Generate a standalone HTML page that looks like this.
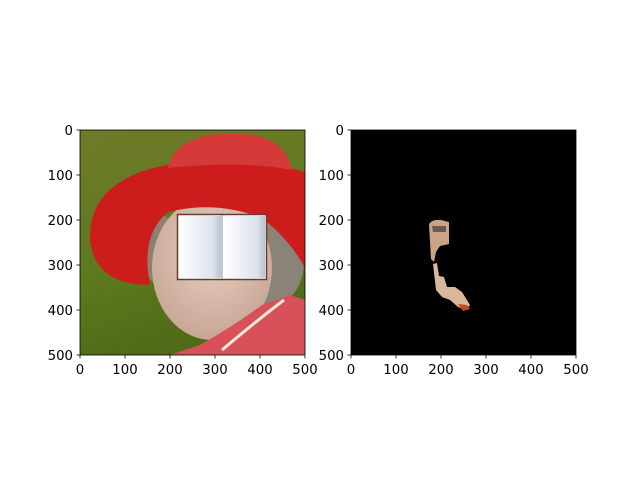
<!DOCTYPE html>
<html><head><meta charset="utf-8"><style>
body{margin:0;background:#fff}
svg{display:block;font-family:"DejaVu Sans","Liberation Sans",sans-serif;font-size:13.3px}
</style></head><body>
<svg width="640" height="480" viewBox="0 0 640 480">
<defs>
<linearGradient id="bg" x1="0" y1="0" x2="0.3" y2="1"><stop offset="0" stop-color="#6f7a2a"/><stop offset="0.6" stop-color="#5d7a1c"/><stop offset="1" stop-color="#4f6a18"/></linearGradient>
<radialGradient id="skin" cx="0.5" cy="0.4" r="0.6"><stop offset="0" stop-color="#e6cfc0"/><stop offset="1" stop-color="#c8a696"/></radialGradient>
<linearGradient id="page" x1="0" x2="1"><stop offset="0" stop-color="#fff"/><stop offset="0.8" stop-color="#dde3ec"/><stop offset="1" stop-color="#b8c2d0"/></linearGradient>
<clipPath id="c1"><rect x="80" y="130" width="225" height="225"/></clipPath>
</defs>
<g clip-path="url(#c1)">
<rect x="80" y="130" width="225" height="225" fill="url(#bg)"/>
<ellipse cx="268" cy="262" rx="36" ry="45" fill="#8a8478"/>
<ellipse cx="160" cy="250" rx="18" ry="35" fill="#8d8070"/>
<ellipse cx="212" cy="268" rx="60" ry="72" fill="url(#skin)"/>
<path d="M200 345 Q235 325 262 305 L290 295 L305 300 L305 355 L170 355 Z" fill="#d8505a"/>
<path d="M222 350 Q255 322 284 300" stroke="#eee8d8" stroke-width="3" fill="none"/>
<path d="M90 240 Q88 175 180 163 Q250 155 305 172 L305 268 Q290 240 262 218 Q215 200 168 212 Q140 235 150 285 Q95 285 90 240 Z" fill="#cc1c1c"/>
<path d="M168 168 Q175 135 230 133 Q285 133 292 170 Q240 160 168 168 Z" fill="#d63a38"/>
<rect x="177" y="214" width="90" height="66" fill="#fff"/>
<rect x="179" y="216" width="42" height="62" fill="url(#page)"/>
<rect x="223" y="216" width="42" height="62" fill="url(#page)"/>
<rect x="177.5" y="214.5" width="89" height="65" fill="none" stroke="#6a3a2a" stroke-width="1.5"/>
<line x1="222" y1="215" x2="222" y2="279" stroke="#8a96a8"/>
</g>
<rect x="80" y="130" width="225" height="225" fill="none" stroke="#000" stroke-width="0.8"/>
<g>
<rect x="351" y="130" width="225" height="225" fill="#000"/>
<path d="M429 224 Q432 219 441 220 L449 222 L449 244 L440 246 L436 252 L434 262 L431 259 Z" fill="#caa488"/>
<path d="M432 226 L446 226 L446 232 L433 232 Z" fill="#6a5a50"/>
<path d="M433 264 L437 263 L439 276 L444 277 L447 287 L455 287 L462 292 L470 305 L466 310 L458 307 L450 300 L442 297 L436 290 Z" fill="#d8b898"/>
<path d="M458 304 L467 305 L470 309 L463 311 Z" fill="#c04c30"/>
</g>
<rect x="351" y="130" width="225" height="225" fill="none" stroke="#000" stroke-width="0.8"/>
<g id="ticks" stroke="#000" stroke-width="0.8"></g>
<g id="labels" fill="#000"></g>
</svg>
<script>
const tickValues=[0,100,200,300,400,500];
const axesLeft=[80,351];
const ns="http://www.w3.org/2000/svg";
const tg=document.getElementById('ticks'),lg=document.getElementById('labels');
const sc=v=>v*0.45;
axesLeft.forEach((x0,ai)=>{
 tickValues.forEach(v=>{
  const x=x0+sc(v),y=130+sc(v);
  let l=document.createElementNS(ns,'line');l.setAttribute('x1',x);l.setAttribute('x2',x);l.setAttribute('y1',355);l.setAttribute('y2',358.5);
  
  
  tg.appendChild(l);
  let m=document.createElementNS(ns,'line');m.setAttribute('x1',x0-3.5);m.setAttribute('x2',x0);m.setAttribute('y1',y);m.setAttribute('y2',y);
  
  
  tg.appendChild(m);
  let t=document.createElementNS(ns,'text');t.setAttribute('x',x);t.setAttribute('y',374);t.setAttribute('text-anchor','middle');t.textContent=v;
  
  
  lg.appendChild(t);
  let u=document.createElementNS(ns,'text');u.setAttribute('x',x0-7);u.setAttribute('y',y+5);u.setAttribute('text-anchor','end');u.textContent=v;
  
  
  lg.appendChild(u);
 });
});
</script>
</body></html>
